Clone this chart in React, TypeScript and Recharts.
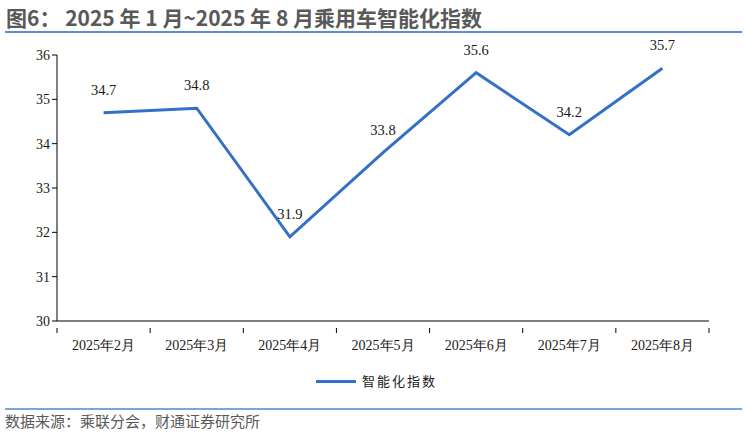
import React from 'react';
import { LineChart, Line, XAxis, YAxis, LabelList } from 'recharts';

const months = ['2025年2月', '2025年3月', '2025年4月', '2025年5月', '2025年6月', '2025年7月', '2025年8月'];
const index = [34.7, 34.8, 31.9, 33.8, 35.6, 34.2, 35.7];
const yTicks = [30, 31, 32, 33, 34, 35, 36];

const data = months.map((m, i) => ({ name: m, value: index[i] }));

const CHART_W = 748;
const PLOT_LEFT = 57;
const PLOT_RIGHT = 709;
const band = (PLOT_RIGHT - PLOT_LEFT) / months.length;

const serif = "'Liberation Serif', 'Times New Roman', serif";
const sans = "'Noto Sans CJK SC', 'Noto Sans', sans-serif";

// category tick with marks on band edges
const MonthTick = (props: any) => {
  const { x, y, payload, index: i } = props;
  const left = x - band / 2;
  return (
    <g>
      <line x1={left} y1={y - 1} x2={left} y2={y + 4} stroke="#000" />
      {i === months.length - 1 && (
        <line x1={x + band / 2} y1={y - 1} x2={x + band / 2} y2={y + 4} stroke="#000" />
      )}
      <text x={x} y={y + 21} textAnchor="middle" style={{ fontSize: 14, fontFamily: serif }} fill="#1a1a1a">
        {payload.value}
      </text>
    </g>
  );
};

export default function App() {
  return (
    <div style={{ position: 'absolute', left: 0, top: 0, width: 748, height: 434, background: '#fff' }}>
      <div
        style={{
          position: 'absolute',
          left: 6,
          top: 3,
          fontFamily: sans,
          fontWeight: 700,
          fontSize: 21,
          color: '#595959',
          whiteSpace: 'nowrap',
          lineHeight: '28px',
        }}
      >
        图6： 2025 年 1 月~2025 年 8 月乘用车智能化指数
      </div>
      <div style={{ position: 'absolute', left: 5, top: 31, width: 737, height: 2, background: '#5b8fcf' }} />

      <div style={{ position: 'absolute', left: 0, top: 0, fontFamily: serif }}>
        <LineChart
          width={CHART_W}
          height={400}
          data={data}
          margin={{ top: 55, right: CHART_W - PLOT_RIGHT, left: PLOT_LEFT - 40, bottom: 49 }}
          style={{ fontFamily: serif }}
        >
          <XAxis
            dataKey="name"
            height={30}
            interval={0}
            padding={{ left: band / 2, right: band / 2 }}
            tickLine={false}
            axisLine={{ stroke: '#000' }}
            tick={<MonthTick />}
          />
          <YAxis
            width={40}
            domain={[30, 36]}
            ticks={yTicks}
            interval={0}
            tickSize={5}
            tickLine={{ stroke: '#000' }}
            axisLine={{ stroke: '#000' }}
            tick={{ fontSize: 14, fill: '#1a1a1a', fontFamily: serif }}
          />
          <Line
            type="linear"
            dataKey="value"
            stroke="#3470c6"
            strokeWidth={3}
            dot={false}
            isAnimationActive={false}
          >
            <LabelList
              dataKey="value"
              position="top"
              offset={18}
              fontSize={14.5}
              fill="#1a1a1a"
              fontFamily={serif}
            />
          </Line>
        </LineChart>
      </div>

      <div style={{ position: 'absolute', left: 316, top: 380, width: 40, height: 3, background: '#3470c6' }} />
      <div
        style={{
          position: 'absolute',
          left: 362,
          top: 372,
          fontFamily: sans,
          fontSize: 13,
          letterSpacing: 2,
          color: '#1a1a1a',
          lineHeight: '18px',
          whiteSpace: 'nowrap',
        }}
      >
        智能化指数
      </div>

      <div style={{ position: 'absolute', left: 5, top: 408, width: 737, height: 2, background: '#7aa6d8' }} />
      <div
        style={{
          position: 'absolute',
          left: 5,
          top: 410,
          fontFamily: sans,
          fontSize: 15,
          color: '#595959',
          lineHeight: '21px',
          whiteSpace: 'nowrap',
        }}
      >
        数据来源：乘联分会，财通证券研究所
      </div>
    </div>
  );
}
